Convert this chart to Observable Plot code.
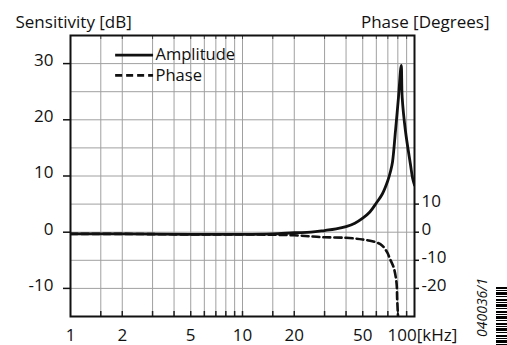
<!DOCTYPE html>
<html>
<head>
<meta charset="utf-8">
<script src="https://cdn.jsdelivr.net/npm/d3@7"></script>
<script src="https://cdn.jsdelivr.net/npm/@observablehq/plot@0.6"></script>
<style>
  html, body { margin: 0; padding: 0; background: #fff; }
  #wrap { position: relative; width: 507px; height: 345px; }
  #barcode { position: absolute; left: 496px; top: 287px; width: 11px; height: 58px;
    background: repeating-linear-gradient(to bottom, #000 0 2px, #fff 2px 3px, #000 3px 4px, #fff 4px 5px, #000 5px 8px, #fff 8px 9px, #000 9px 10px, #fff 10px 12px); }
</style>
</head>
<body>
<div id="wrap"></div>
<script>
// Amplitude curve (Sensitivity, dB) vs frequency (kHz)
const ampFreq = [1, 2, 5, 10, 15, 20, 25, 30, 35, 40, 45, 50, 55, 60, 65, 70, 72.5, 74.5, 77.5, 80.7, 83.7, 84.8, 88.6, 94.8, 97.5, 100];
const ampDb   = [-0.3, -0.3, -0.4, -0.4, -0.3, -0.1, 0, 0.3, 0.6, 1.0, 1.6, 2.5, 3.6, 5.2, 6.8, 9.2, 10.8, 12.5, 18, 24, 29.7, 24, 18, 12, 9.6, 8.4];
// Phase curve (degrees) vs frequency (kHz)
const phaseFreq = [1, 2, 5, 10, 15, 20, 25, 30, 40, 50, 60, 65, 69.4, 72, 75.8, 78.6, 79.3, 80, 80.4];
const phaseDeg  = [-0.6, -0.6, -0.8, -0.8, -0.9, -1.1, -1.5, -1.8, -2.0, -2.6, -3.6, -4.8, -7.2, -9.5, -12.7, -18, -23.8, -28.7, -31];

const xGrid = [1.5, 2, 3, 4, 5, 6, 7, 8, 9, 10, 15, 20, 30, 40, 50, 60, 70, 80, 90];
const xLabels = [1, 2, 5, 10, 20, 50];
const yGrid = [-10, -5, 0, 5, 10, 15, 20, 25, 30];
const yLeftTicks = [-10, 0, 10, 20, 30];
const yRightTicks = [10, 0, -10, -20]; // degrees
const legendLabels = ["Amplitude", "Phase"];
const legendY = [31.5, 27.9];

const degToDb = d => d / 2; // right axis: 10° per 5 dB

const amp = ampFreq.map((f, i) => ({f, v: ampDb[i]}));
const phase = phaseFreq.map((f, i) => ({f, v: degToDb(phaseDeg[i])}));
const legend = legendLabels.map((label, i) => ({label, y: legendY[i]}));

const font = "'Open Sans', sans-serif";
const fs = 17;

const chart = Plot.plot({
  width: 507,
  height: 345,
  marginLeft: 70,
  marginRight: 93,
  marginTop: 35,
  marginBottom: 29,
  style: {fontFamily: font, fontSize: fs + "px", color: "#111", background: "#fff"},
  x: {type: "log", domain: [1, 100], axis: null},
  y: {domain: [-15, 35], axis: null},
  marks: [
    Plot.ruleX(xGrid, {stroke: "#a0a0a0", strokeWidth: 1}),
    Plot.ruleY(yGrid, {stroke: "#a0a0a0", strokeWidth: 1}),
    // inward tick marks on bottom and top edge
    Plot.ruleX(xGrid, {stroke: "#222", strokeWidth: 1.5, insetTop: 276}),
    Plot.ruleX(xGrid, {stroke: "#444", strokeWidth: 1, insetBottom: 277}),
    // left axis ticks
    Plot.axisY({ticks: yLeftTicks, anchor: "left", tickSize: 7, strokeWidth: 1.5, tickFormat: () => ""}),
    Plot.text(yLeftTicks, {y: d => d, text: d => String(d), frameAnchor: "left", textAnchor: "end", dx: -17, dy: -3, fontSize: fs}),
    // right axis (phase)
    Plot.axisY({ticks: yRightTicks.map(degToDb), anchor: "right", tickSize: 4, strokeWidth: 1.5, tickFormat: () => ""}),
    Plot.text(yRightTicks, {y: d => degToDb(d), text: d => String(d), frameAnchor: "right", textAnchor: "start", dx: 7, dy: -3, fontSize: fs}),
    // bottom labels
    Plot.text(xLabels, {x: d => d, text: d => String(d), frameAnchor: "bottom", lineAnchor: "bottom", dy: 24, fontSize: fs}),
    Plot.text([100], {x: d => d, text: () => "100[kHz]", frameAnchor: "bottom", lineAnchor: "bottom", textAnchor: "start", dx: -27, dy: 24, fontSize: fs}),
    // curves
    Plot.line(phase, {x: "f", y: "v", stroke: "#111", strokeWidth: 2.6, strokeDasharray: "7,4", curve: "catmull-rom", clip: true}),
    Plot.line(amp, {x: "f", y: "v", stroke: "#111", strokeWidth: 2.8, curve: "catmull-rom", clip: true}),
    // legend
    Plot.ruleY([legend[0]], {y: "y", x1: 1.83, x2: 3.04, stroke: "#111", strokeWidth: 2.6}),
    Plot.ruleY([legend[1]], {y: "y", x1: 1.83, x2: 3.04, stroke: "#111", strokeWidth: 2.6, strokeDasharray: "7,4"}),
    Plot.text(legend, {x: 3.04, y: "y", text: "label", textAnchor: "start", dx: 2, fontSize: 16.5}),
    // frame
    Plot.frame({stroke: "#111", strokeWidth: 2}),
    // titles
    Plot.text(["Sensitivity [dB]"], {frameAnchor: "top-left", textAnchor: "start", lineAnchor: "bottom", dx: -55, dy: -8, fontSize: fs}),
    Plot.text(["Phase [Degrees]"], {frameAnchor: "top-right", textAnchor: "end", lineAnchor: "bottom", dx: 75, dy: -8, fontSize: fs}),
    // document code
    Plot.text(["040036/1"], {frameAnchor: "bottom-right", rotate: -90, textAnchor: "middle", lineAnchor: "middle", dx: 68, dy: -9, fontSize: 14, fontStyle: "italic"})
  ]
});
document.getElementById("wrap").appendChild(chart);
const bc = document.createElement("div");
bc.id = "barcode";
document.getElementById("wrap").appendChild(bc);
</script>
</body>
</html>
